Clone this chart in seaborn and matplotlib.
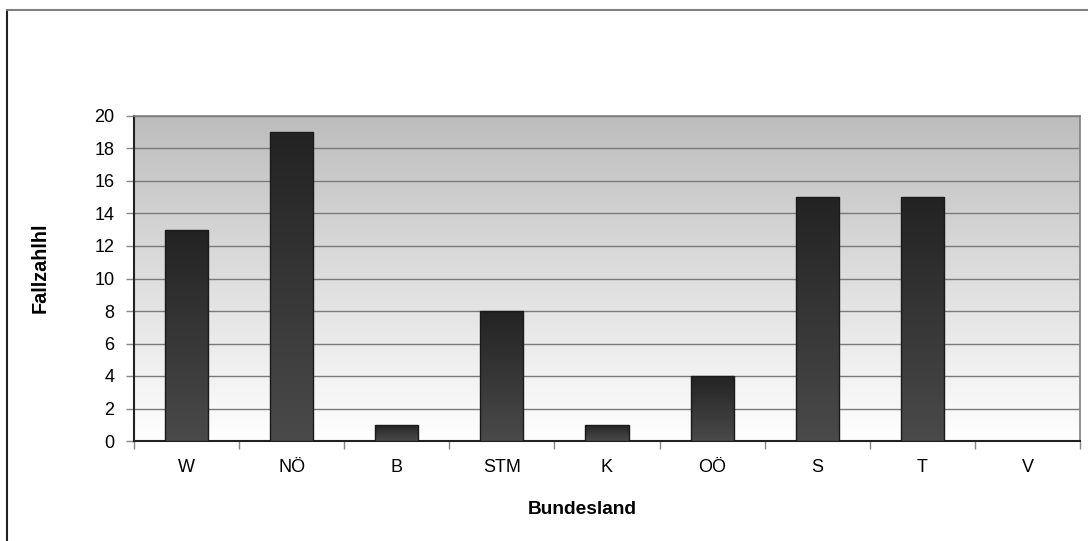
import numpy as np
import pandas as pd
import matplotlib
matplotlib.use("Agg")
import matplotlib.pyplot as plt
import seaborn as sns
from matplotlib.colors import LinearSegmentedColormap
from matplotlib.lines import Line2D

categories = ["W", "NÖ", "B", "STM", "K", "OÖ", "S", "T", "V"]
values = [13, 19, 1, 8, 1, 4, 15, 15, 0]
y_ticks = [0, 2, 4, 6, 8, 10, 12, 14, 16, 18, 20]

sns.set_theme(style="white")
plt.rcParams["font.family"] = ["Liberation Sans", "DejaVu Sans"]
plt.rcParams["text.color"] = "black"
plt.rcParams["xtick.color"] = "black"
plt.rcParams["ytick.color"] = "black"

df = pd.DataFrame({"Bundesland": categories, "Fallzahl": values})

fig = plt.figure(figsize=(10.88, 5.41), dpi=100)
ax = fig.add_axes([134/1088, 1-441/541, (1080-134)/1088, (441-116)/541])

sns.barplot(data=df, x="Bundesland", y="Fallzahl", ax=ax, width=0.41,
            color="#333333", edgecolor="#1a1a1a", linewidth=1.0, saturation=1, zorder=3)

ax.set_ylim(0, 20)
ax.set_xlim(-0.5, len(categories) - 0.5)

# background gradient
bg = LinearSegmentedColormap.from_list("bg", ["#ffffff", "#bdbdbd"])
grad = np.linspace(0, 1, 256).reshape(-1, 1)
ax.imshow(grad, cmap=bg, aspect="auto", extent=[-0.5, len(categories) - 0.5, 0, 20],
          origin="lower", zorder=0)

# bar gradients
barcm = LinearSegmentedColormap.from_list("bar", ["#4a4a4a", "#232323"])
for p in ax.patches:
    h = p.get_height()
    if h <= 0:
        p.set_visible(False)
        continue
    x0 = p.get_x()
    w = p.get_width()
    im = ax.imshow(grad, cmap=barcm, aspect="auto", extent=[x0, x0 + w, 0, h],
                   origin="lower", zorder=3.5)
    im.set_clip_path(p)
    p.set_facecolor("none")
    p.set_zorder(4)

ax.set_xlim(-0.5, len(categories) - 0.5)
ax.set_ylim(0, 20)

ax.set_yticks(y_ticks)
ax.yaxis.grid(True, color="#7a7a7a", linewidth=1.0, zorder=1)
ax.set_axisbelow(True)
for gl in ax.get_ygridlines():
    gl.set_zorder(1)

ax.set_xticks(range(len(categories)))
ax.set_xticklabels(categories)
ax.set_xticks(np.arange(-0.5, len(categories), 1), minor=True)
ax.tick_params(axis="x", which="major", length=0, pad=13, labelsize=13, labelcolor="black")
ax.tick_params(axis="x", which="minor", length=6, width=1, color="#888888", direction="out", bottom=True)
ax.tick_params(axis="y", which="major", length=6, width=1, color="#888888", direction="out",
               left=True, pad=8, labelsize=13, labelcolor="black")

for s in ["left", "bottom"]:
    ax.spines[s].set_color("#222222")
    ax.spines[s].set_linewidth(1.5)
for s in ["top", "right"]:
    ax.spines[s].set_color("#808080")
    ax.spines[s].set_linewidth(1.2)
    ax.spines[s].set_visible(True)

ax.set_xlabel("")
ax.set_ylabel("")
fig.text(582/1088, 1-509/541, "Bundesland", fontsize=13.8, fontweight="bold",
         ha="center", va="center", color="black")
fig.text(40/1088, 1-268/541, "Fallzahlhl", fontsize=14.3, fontweight="bold",
         ha="center", va="center", rotation=90, color="black")

# outer frame (left and top)
fig.add_artist(Line2D([7/1088, 7/1088], [0, 1-10/541], color="#222222", linewidth=1.5,
                      transform=fig.transFigure))
fig.add_artist(Line2D([7/1088, 1], [1-10/541, 1-10/541], color="#808080", linewidth=1.5,
                      transform=fig.transFigure))

fig.savefig("out.png", dpi=100)
